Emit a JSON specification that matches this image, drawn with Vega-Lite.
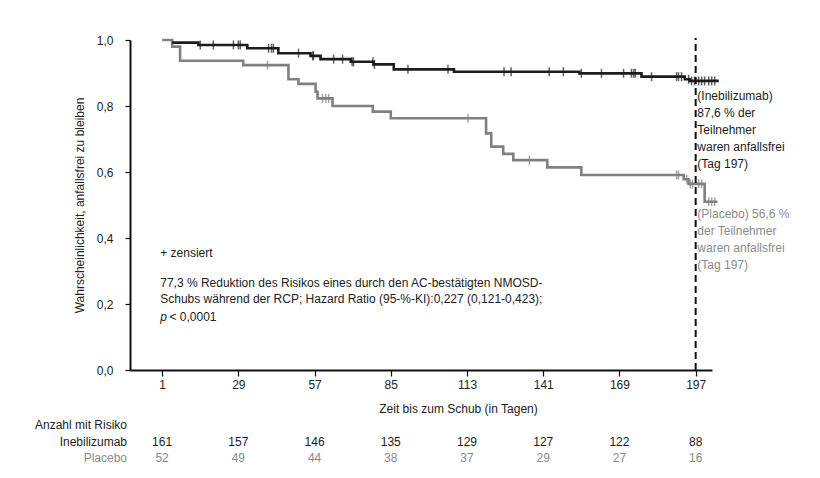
{
  "$schema": "https://vega.github.io/schema/vega-lite/v6.json",
  "width": 582,
  "height": 330,
  "autosize": {"type": "none"},
  "padding": {"left": 130, "top": 40, "right": 108, "bottom": 108},
  "background": "white",
  "config": {"view": {"stroke": null}, "font": "Liberation Sans", "text": {"font": "Liberation Sans"}},
  "datasets": {
    "one": [{}],
    "km": [
      {"group": "Placebo", "day": 1, "s": 1.0},
      {"group": "Placebo", "day": 4.7, "s": 0.98},
      {"group": "Placebo", "day": 7.6, "s": 0.937},
      {"group": "Placebo", "day": 30.8, "s": 0.924},
      {"group": "Placebo", "day": 47.4, "s": 0.881},
      {"group": "Placebo", "day": 51.1, "s": 0.867},
      {"group": "Placebo", "day": 57.4, "s": 0.843},
      {"group": "Placebo", "day": 58.1, "s": 0.823},
      {"group": "Placebo", "day": 63.6, "s": 0.8},
      {"group": "Placebo", "day": 78.4, "s": 0.783},
      {"group": "Placebo", "day": 85.0, "s": 0.763},
      {"group": "Placebo", "day": 120.0, "s": 0.717},
      {"group": "Placebo", "day": 121.9, "s": 0.677},
      {"group": "Placebo", "day": 126.3, "s": 0.655},
      {"group": "Placebo", "day": 130.0, "s": 0.636},
      {"group": "Placebo", "day": 142.5, "s": 0.614},
      {"group": "Placebo", "day": 155.0, "s": 0.591},
      {"group": "Placebo", "day": 192.6, "s": 0.578},
      {"group": "Placebo", "day": 194.4, "s": 0.564},
      {"group": "Placebo", "day": 200.3, "s": 0.51},
      {"group": "Placebo", "day": 205.0, "s": 0.51},
      {"group": "Inebilizumab", "day": 4.7, "s": 0.992},
      {"group": "Inebilizumab", "day": 14.3, "s": 0.985},
      {"group": "Inebilizumab", "day": 32.3, "s": 0.975},
      {"group": "Inebilizumab", "day": 43.7, "s": 0.96},
      {"group": "Inebilizumab", "day": 55.5, "s": 0.952},
      {"group": "Inebilizumab", "day": 59.2, "s": 0.942},
      {"group": "Inebilizumab", "day": 70.3, "s": 0.934},
      {"group": "Inebilizumab", "day": 78.7, "s": 0.926},
      {"group": "Inebilizumab", "day": 86.1, "s": 0.911},
      {"group": "Inebilizumab", "day": 108.2, "s": 0.904},
      {"group": "Inebilizumab", "day": 154.3, "s": 0.899},
      {"group": "Inebilizumab", "day": 177.1, "s": 0.889},
      {"group": "Inebilizumab", "day": 193.0, "s": 0.881},
      {"group": "Inebilizumab", "day": 194.8, "s": 0.876},
      {"group": "Inebilizumab", "day": 205.5, "s": 0.876}
    ],
    "cens": [
      {"group": "Inebilizumab", "day": 15.0, "s": 0.985},
      {"group": "Inebilizumab", "day": 19.8, "s": 0.985},
      {"group": "Inebilizumab", "day": 27.2, "s": 0.985},
      {"group": "Inebilizumab", "day": 29.0, "s": 0.985},
      {"group": "Inebilizumab", "day": 29.7, "s": 0.985},
      {"group": "Inebilizumab", "day": 40.1, "s": 0.975},
      {"group": "Inebilizumab", "day": 41.2, "s": 0.975},
      {"group": "Inebilizumab", "day": 41.9, "s": 0.975},
      {"group": "Inebilizumab", "day": 51.1, "s": 0.96},
      {"group": "Inebilizumab", "day": 56.3, "s": 0.952},
      {"group": "Inebilizumab", "day": 56.6, "s": 0.952},
      {"group": "Inebilizumab", "day": 64.0, "s": 0.942},
      {"group": "Inebilizumab", "day": 67.3, "s": 0.942},
      {"group": "Inebilizumab", "day": 70.8, "s": 0.934},
      {"group": "Inebilizumab", "day": 71.3, "s": 0.934},
      {"group": "Inebilizumab", "day": 78.4, "s": 0.934},
      {"group": "Inebilizumab", "day": 79.0, "s": 0.926},
      {"group": "Inebilizumab", "day": 91.3, "s": 0.911},
      {"group": "Inebilizumab", "day": 106.0, "s": 0.911},
      {"group": "Inebilizumab", "day": 126.6, "s": 0.904},
      {"group": "Inebilizumab", "day": 129.2, "s": 0.904},
      {"group": "Inebilizumab", "day": 143.2, "s": 0.904},
      {"group": "Inebilizumab", "day": 148.4, "s": 0.904},
      {"group": "Inebilizumab", "day": 155.0, "s": 0.899},
      {"group": "Inebilizumab", "day": 162.4, "s": 0.899},
      {"group": "Inebilizumab", "day": 170.5, "s": 0.899},
      {"group": "Inebilizumab", "day": 173.4, "s": 0.899},
      {"group": "Inebilizumab", "day": 174.2, "s": 0.899},
      {"group": "Inebilizumab", "day": 174.8, "s": 0.899},
      {"group": "Inebilizumab", "day": 180.8, "s": 0.889},
      {"group": "Inebilizumab", "day": 190.0, "s": 0.889},
      {"group": "Inebilizumab", "day": 190.7, "s": 0.889},
      {"group": "Inebilizumab", "day": 191.8, "s": 0.889},
      {"group": "Inebilizumab", "day": 194.4, "s": 0.881},
      {"group": "Inebilizumab", "day": 195.5, "s": 0.876},
      {"group": "Inebilizumab", "day": 196.6, "s": 0.876},
      {"group": "Inebilizumab", "day": 198.1, "s": 0.876},
      {"group": "Inebilizumab", "day": 199.2, "s": 0.876},
      {"group": "Inebilizumab", "day": 200.3, "s": 0.876},
      {"group": "Inebilizumab", "day": 201.8, "s": 0.876},
      {"group": "Inebilizumab", "day": 202.9, "s": 0.876},
      {"group": "Inebilizumab", "day": 204.0, "s": 0.876},
      {"group": "Placebo", "day": 39.7, "s": 0.924},
      {"group": "Placebo", "day": 59.9, "s": 0.823},
      {"group": "Placebo", "day": 61.1, "s": 0.823},
      {"group": "Placebo", "day": 62.2, "s": 0.823},
      {"group": "Placebo", "day": 113.4, "s": 0.763},
      {"group": "Placebo", "day": 135.9, "s": 0.636},
      {"group": "Placebo", "day": 190.0, "s": 0.591},
      {"group": "Placebo", "day": 190.7, "s": 0.591},
      {"group": "Placebo", "day": 193.7, "s": 0.578},
      {"group": "Placebo", "day": 195.0, "s": 0.564},
      {"group": "Placebo", "day": 195.8, "s": 0.564},
      {"group": "Placebo", "day": 198.1, "s": 0.564},
      {"group": "Placebo", "day": 199.2, "s": 0.564},
      {"group": "Placebo", "day": 201.8, "s": 0.51},
      {"group": "Placebo", "day": 202.9, "s": 0.51},
      {"group": "Placebo", "day": 204.0, "s": 0.51}
    ],
    "risk": [
      {"group": "Inebilizumab", "day": 1, "n": 161},
      {"group": "Inebilizumab", "day": 29, "n": 157},
      {"group": "Inebilizumab", "day": 57, "n": 146},
      {"group": "Inebilizumab", "day": 85, "n": 135},
      {"group": "Inebilizumab", "day": 113, "n": 129},
      {"group": "Inebilizumab", "day": 141, "n": 127},
      {"group": "Inebilizumab", "day": 169, "n": 122},
      {"group": "Inebilizumab", "day": 197, "n": 88},
      {"group": "Placebo", "day": 1, "n": 52},
      {"group": "Placebo", "day": 29, "n": 49},
      {"group": "Placebo", "day": 57, "n": 44},
      {"group": "Placebo", "day": 85, "n": 38},
      {"group": "Placebo", "day": 113, "n": 37},
      {"group": "Placebo", "day": 141, "n": 29},
      {"group": "Placebo", "day": 169, "n": 27},
      {"group": "Placebo", "day": 197, "n": 16}
    ]
  },
  "layer": [
    {
      "data": {"name": "km"},
      "mark": {"type": "line", "interpolate": "step-after", "strokeWidth": 2.6},
      "encoding": {
        "x": {
          "field": "day", "type": "quantitative",
          "scale": {"domain": [-10.8, 203], "nice": false, "zero": false},
          "axis": {
            "values": [1, 29, 57, 85, 113, 141, 169, 197],
            "title": "Zeit bis zum Schub (in Tagen)",
            "titleFontSize": 12, "titleFontWeight": "normal", "titleColor": "#222",
            "titlePadding": 13, "titleX": 328, "titleAlign": "center", "titleAnchor": null,
            "labelFontSize": 12, "labelColor": "#222", "labelPadding": 3,
            "domainColor": "#111", "domainWidth": 2, "tickColor": "#111", "tickWidth": 1.2, "tickSize": 6,
            "grid": false, "labelFont": "Liberation Sans Narrow, Liberation Sans", "titleFont": "Liberation Sans Narrow, Liberation Sans"
          }
        },
        "y": {
          "field": "s", "type": "quantitative",
          "scale": {"domain": [0, 1], "nice": false},
          "axis": {
            "values": [0, 0.2, 0.4, 0.6, 0.8, 1.0],
            "labelExpr": "replace(format(datum.value, '.1f'), '.', ',')",
            "title": "Wahrscheinlichkeit, anfallsfrei zu bleiben",
            "titleFontSize": 12, "titleFontWeight": "normal", "titleColor": "#222", "titlePadding": 10,
            "labelFontSize": 12, "labelColor": "#222", "labelPadding": 12,
            "domainColor": "#111", "domainWidth": 2, "tickColor": "#111", "tickWidth": 1.2, "tickSize": 5,
            "grid": false
          }
        },
        "color": {
          "field": "group", "type": "nominal",
          "scale": {"domain": ["Placebo", "Inebilizumab"], "range": ["#808080", "#1c1c1c"]},
          "legend": null
        }
      }
    },
    {
      "data": {"name": "cens"},
      "mark": {"type": "tick", "orient": "vertical", "size": 9, "thickness": 1.5},
      "encoding": {
        "x": {"field": "day", "type": "quantitative"},
        "y": {"field": "s", "type": "quantitative"},
        "color": {"field": "group", "type": "nominal", "legend": null}
      }
    },
    {
      "data": {"name": "one"},
      "mark": {"type": "rule", "strokeDash": [7, 4], "strokeWidth": 2, "color": "#111"},
      "encoding": {
        "x": {"datum": 197, "type": "quantitative"},
        "y": {"datum": 0, "type": "quantitative"},
        "y2": {"datum": 1.006}
      }
    },
    {
      "data": {"name": "one"},
      "mark": {"type": "text", "align": "left", "baseline": "top", "fontSize": 12, "lineHeight": 17, "color": "#1c1c1c",
        "text": ["(Inebilizumab)", "87,6 % der", "Teilnehmer", "waren anfallsfrei", "(Tag 197)"]},
      "encoding": {"x": {"datum": 197.6, "type": "quantitative"}, "y": {"datum": 0.846, "type": "quantitative"}}
    },
    {
      "data": {"name": "one"},
      "mark": {"type": "text", "align": "left", "baseline": "top", "fontSize": 12, "lineHeight": 17, "color": "#8a8a8a",
        "text": ["(Placebo) 56,6 %", "der Teilnehmer", "waren anfallsfrei", "(Tag 197)"]},
      "encoding": {"x": {"datum": 197.6, "type": "quantitative"}, "y": {"datum": 0.487, "type": "quantitative"}}
    },
    {
      "data": {"name": "one"},
      "mark": {"type": "text", "align": "left", "baseline": "middle", "fontSize": 12, "color": "#222", "text": "+ zensiert"},
      "encoding": {"x": {"datum": 0.3, "type": "quantitative"}, "y": {"datum": 0.355, "type": "quantitative"}}
    },
    {
      "data": {"name": "one"},
      "mark": {"type": "text", "align": "left", "baseline": "top", "fontSize": 12, "lineHeight": 16, "color": "#222",
        "text": ["77,3 % Reduktion des Risikos eines durch den AC-bestätigten NMOSD-", "Schubs während der RCP;  Hazard Ratio (95-%-KI):0,227 (0,121-0,423);"]},
      "encoding": {"x": {"datum": 0.3, "type": "quantitative"}, "y": {"datum": 0.279, "type": "quantitative"}}
    },
    {
      "data": {"name": "one"},
      "mark": {"type": "text", "align": "left", "baseline": "middle", "fontSize": 12, "fontStyle": "italic", "color": "#222", "text": "p"},
      "encoding": {"x": {"datum": 0.3, "type": "quantitative"}, "y": {"datum": 0.162, "type": "quantitative"}}
    },
    {
      "data": {"name": "one"},
      "mark": {"type": "text", "align": "left", "baseline": "middle", "fontSize": 12, "color": "#222", "text": "< 0,0001"},
      "encoding": {"x": {"datum": 3.7, "type": "quantitative"}, "y": {"datum": 0.162, "type": "quantitative"}}
    },
    {
      "data": {"name": "one"},
      "mark": {"type": "text", "align": "right", "baseline": "middle", "fontSize": 12, "color": "#222", "font": "Liberation Sans Narrow, Liberation Sans", "text": "Anzahl mit Risiko"},
      "encoding": {"x": {"datum": -11.9, "type": "quantitative"}, "y": {"datum": -0.167, "type": "quantitative"}}
    },
    {
      "data": {"name": "one"},
      "mark": {"type": "text", "align": "right", "baseline": "middle", "fontSize": 12, "color": "#222", "font": "Liberation Sans Narrow, Liberation Sans", "text": "Inebilizumab"},
      "encoding": {"x": {"datum": -11.9, "type": "quantitative"}, "y": {"datum": -0.218, "type": "quantitative"}}
    },
    {
      "data": {"name": "one"},
      "mark": {"type": "text", "align": "right", "baseline": "middle", "fontSize": 12, "color": "#8a8a8a", "font": "Liberation Sans Narrow, Liberation Sans", "text": "Placebo"},
      "encoding": {"x": {"datum": -11.9, "type": "quantitative"}, "y": {"datum": -0.267, "type": "quantitative"}}
    },
    {
      "data": {"name": "risk"},
      "transform": [{"filter": "datum.group === 'Inebilizumab'"}],
      "mark": {"type": "text", "align": "center", "baseline": "middle", "fontSize": 12, "color": "#1c1c1c", "font": "Liberation Sans Narrow, Liberation Sans"},
      "encoding": {
        "x": {"field": "day", "type": "quantitative"},
        "y": {"datum": -0.218, "type": "quantitative"},
        "text": {"field": "n", "type": "quantitative"}
      }
    },
    {
      "data": {"name": "risk"},
      "transform": [{"filter": "datum.group === 'Placebo'"}],
      "mark": {"type": "text", "align": "center", "baseline": "middle", "fontSize": 12, "color": "#8a8a8a", "font": "Liberation Sans Narrow, Liberation Sans"},
      "encoding": {
        "x": {"field": "day", "type": "quantitative"},
        "y": {"datum": -0.267, "type": "quantitative"},
        "text": {"field": "n", "type": "quantitative"}
      }
    }
  ]
}
